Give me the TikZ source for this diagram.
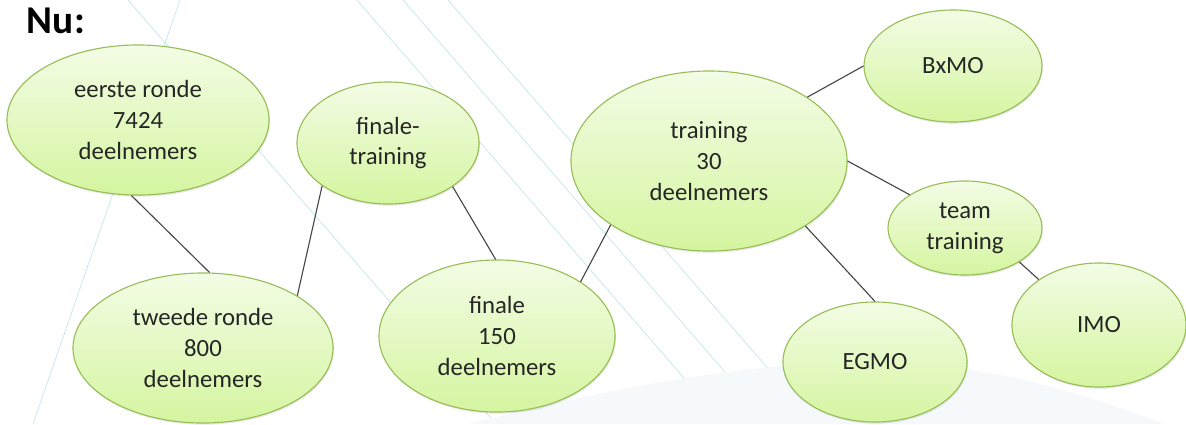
\documentclass[tikz,border=0pt]{standalone}
\usepackage{fontspec}
\setmainfont{Carlito}
\usetikzlibrary{shapes.geometric,shadows}

\definecolor{gtop}{RGB}{243,252,229}
\definecolor{gbot}{RGB}{213,245,160}
\definecolor{gborder}{RGB}{152,190,86}
\definecolor{bgline}{RGB}{196,228,234}
\definecolor{bgarc}{RGB}{245,249,251}

\begin{document}
\begin{tikzpicture}[
	x=0.025cm, y=-0.025cm,
	stage/.style={
		ellipse,
		draw=gborder,
		line width=0.8pt,
		top color=gtop,
		bottom color=gbot,
		drop shadow={shadow xshift=0.6pt, shadow yshift=-1.2pt, opacity=0.18},
		inner sep=0pt,
		align=center,
		text=black!85
		},
	link/.style={
		draw=black!72,
		line width=0.8pt
	},
	deco/.style={
		draw=bgline,
		line width=0.5pt
	},
	every node/.style={font=\fontsize{17.6}{22}\selectfont}
]
\useasboundingbox (0,0) rectangle (1186,424);

% Background
\draw [deco] (128,0) -- (496,424);
\draw [deco] (180,0) -- (33,424);
\draw [deco] (357,0) -- (690,385);
\draw [deco] (403,0) -- (730,378);
\draw [deco] (448,0) -- (772,373);
\fill [bgarc] (468,424) .. controls (640,380) and (780,360) .. (880,362)
	.. controls (1000,364) and (1100,400) .. (1165,424) -- cycle;

% Title
\node [anchor=base west, font=\bfseries\fontsize{28}{32}\selectfont] (title) at (22,33) {Nu:};

% Rounds
\node [stage, minimum width=6.55cm, minimum height=3.75cm] (eerste) at (138,120) {eerste ronde\\7424\\deelnemers};
\node [stage, minimum width=6.5cm, minimum height=3.75cm] (tweede) at (203,348) {tweede ronde\\800\\deelnemers};
\node [stage, minimum width=4.55cm, minimum height=3.05cm] (fintraining) at (388,143) {finale-\\training};
\node [stage, minimum width=5.9cm, minimum height=3.8cm] (finale) at (497,336) {finale\\150\\deelnemers};
\node [stage, minimum width=6.9cm, minimum height=4.5cm] (training) at (709,161) {training\\30\\deelnemers};

% Olympiads
\node [stage, minimum width=4.45cm, minimum height=2.8cm] (BxMO) at (953,66) {BxMO};
\node [stage, minimum width=3.85cm, minimum height=2.35cm] (teamtraining) at (965,228) {team\\training};
\node [stage, minimum width=4.6cm, minimum height=3cm] (EGMO) at (875,362) {EGMO};
\node [stage, minimum width=4.35cm, minimum height=3.1cm] (IMO) at (1099,325) {IMO};

% Links
\draw [link] (eerste.-95) -- (tweede.85);
\draw [link] (tweede.29) -- (fintraining.-147);
\draw [link] (fintraining.-34) -- (finale.91);
\draw [link] (finale.33) -- (training.-147);
\draw [link] (training.33) -- (BxMO.180);
\draw [link] (training.0) -- (teamtraining.149);
\draw [link] (training.-34) -- (EGMO.90);
\draw [link] (teamtraining.-32) -- (IMO.143);

\end{tikzpicture}
\end{document}
